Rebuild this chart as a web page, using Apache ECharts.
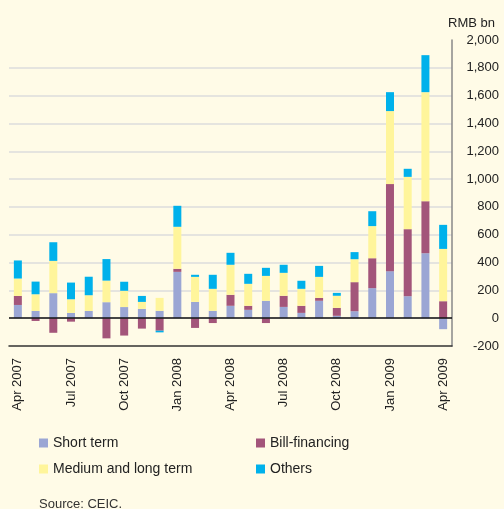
<!DOCTYPE html>
<html>
<head>
<meta charset="utf-8">
<script src="https://cdn.jsdelivr.net/npm/echarts@6/dist/echarts.min.js"></script>
<style>
  html, body { margin: 0; padding: 0; background: #fffbe7; }
  #chart { width: 504px; height: 509px; }
</style>
</head>
<body>
<div id="chart"></div>
<script>
  // months, Apr 2007 .. Apr 2009
  var categories = ['Apr 2007', 'May 2007', 'Jun 2007', 'Jul 2007', 'Aug 2007', 'Sep 2007',
    'Oct 2007', 'Nov 2007', 'Dec 2007', 'Jan 2008', 'Feb 2008', 'Mar 2008',
    'Apr 2008', 'May 2008', 'Jun 2008', 'Jul 2008', 'Aug 2008', 'Sep 2008',
    'Oct 2008', 'Nov 2008', 'Dec 2008', 'Jan 2009', 'Feb 2009', 'Mar 2009', 'Apr 2009'];

  // RMB bn
  var shortTerm     = [95, 52, 180, 38, 52, 115, 80, 67, 53, 333, 117, 53, 89, 60, 125, 81, 38, 125, 17, 50, 216, 338, 158, 467, -79];
  var billFinancing = [65, -20, -105, -25, 0, -145, -125, -75, -90, 22, -70, -35, 79, 29, -35, 80, 51, 21, 57, 209, 215, 626, 482, 374, 122];
  var mediumLong    = [125, 120, 232, 98, 113, 155, 117, 50, 93, 302, 180, 158, 216, 158, 179, 165, 122, 151, 87, 165, 231, 525, 376, 784, 376];
  var others        = [130, 91, 134, 120, 133, 155, 65, 43, -12, 151, 15, 101, 86, 72, 58, 58, 58, 79, 21, 51, 107, 136, 58, 266, 173];

  var seriesNames = ['Short term', 'Bill-financing', 'Medium and long term', 'Others'];
  var seriesColors = ['#9ba6d4', '#a3557a', '#fff59b', '#00b1eb'];
  var seriesData = [shortTerm, billFinancing, mediumLong, others];

  var fontFam = '"Liberation Sans", Arial, sans-serif';

  var chart = echarts.init(document.getElementById('chart'));

  var series = [];
  for (var i = 0; i < seriesNames.length; i++) {
    series.push({
      name: seriesNames[i],
      type: 'bar',
      stack: 'total',
      barWidth: 8,
      itemStyle: { color: seriesColors[i] },
      data: seriesData[i]
    });
  }
  // zero line across the plot
  series[0].markLine = {
    silent: true,
    symbol: 'none',
    label: { show: false },
    lineStyle: { color: '#111', width: 1.5, type: 'solid' },
    data: [{ yAxis: 0 }]
  };

  var option = {
    backgroundColor: '#fffbe7',
    animation: false,
    title: {
      text: 'RMB bn',
      right: 4,
      top: 12,
      textStyle: { fontFamily: fontFam, fontSize: 13, fontWeight: 'normal', color: '#222' }
    },
    legend: [
      {
        orient: 'vertical',
        left: 39,
        top: 436,
        padding: 0,
        itemWidth: 9,
        itemHeight: 9,
        itemGap: 12,
        icon: 'rect',
        textStyle: { fontFamily: fontFam, fontSize: 14, color: '#222' },
        data: ['Short term', 'Medium and long term']
      },
      {
        orient: 'vertical',
        left: 256,
        top: 436,
        padding: 0,
        itemWidth: 9,
        itemHeight: 9,
        itemGap: 12,
        icon: 'rect',
        textStyle: { fontFamily: fontFam, fontSize: 14, color: '#222' },
        data: ['Bill-financing', 'Others']
      }
    ],
    graphic: [{
      type: 'text',
      left: 39,
      top: 498,
      style: { text: 'Source: CEIC.', font: '13px "Liberation Sans", Arial, sans-serif', fill: '#333' }
    }],
    grid: { left: 9, right: 52, top: 40, bottom: 163, containLabel: false },
    xAxis: [
      {
        type: 'category',
        data: categories,
        boundaryGap: true,
        axisLine: { onZero: false, lineStyle: { color: '#333', width: 1.5 } },
        axisTick: {
          inside: true,
          length: 5,
          interval: function (idx) { return idx > 0; },
          lineStyle: { color: '#333', width: 1 }
        },
        axisLabel: {
          interval: 2,
          rotate: 90,
          margin: 12,
          fontFamily: fontFam,
          fontSize: 13,
          color: '#222'
        },
        splitLine: { show: false }
      },
      {
        type: 'category',
        data: categories,
        boundaryGap: true,
        position: 'bottom',
        axisLine: { show: false, onZero: false },
        axisTick: {
          inside: true,
          length: 9,
          interval: function (idx) { return idx > 0 && idx % 3 === 0; },
          lineStyle: { color: '#444', width: 1.2 }
        },
        axisLabel: { show: false },
        splitLine: { show: false }
      }
    ],
    yAxis: {
      type: 'value',
      position: 'right',
      min: -200,
      max: 2000,
      interval: 200,
      axisLine: { show: true, lineStyle: { color: '#888', width: 1.5 } },
      axisTick: { show: false },
      axisLabel: {
        align: 'right',
        margin: 47,
        fontFamily: fontFam,
        fontSize: 13,
        color: '#222',
        formatter: function (v) { return v.toLocaleString('en-US'); }
      },
      splitLine: {
        show: true,
        showMinLine: false,
        showMaxLine: false,
        lineStyle: { color: '#dcdcdc', width: 1.5 }
      }
    },
    series: series
  };
  chart.setOption(option);
</script>
</body>
</html>
